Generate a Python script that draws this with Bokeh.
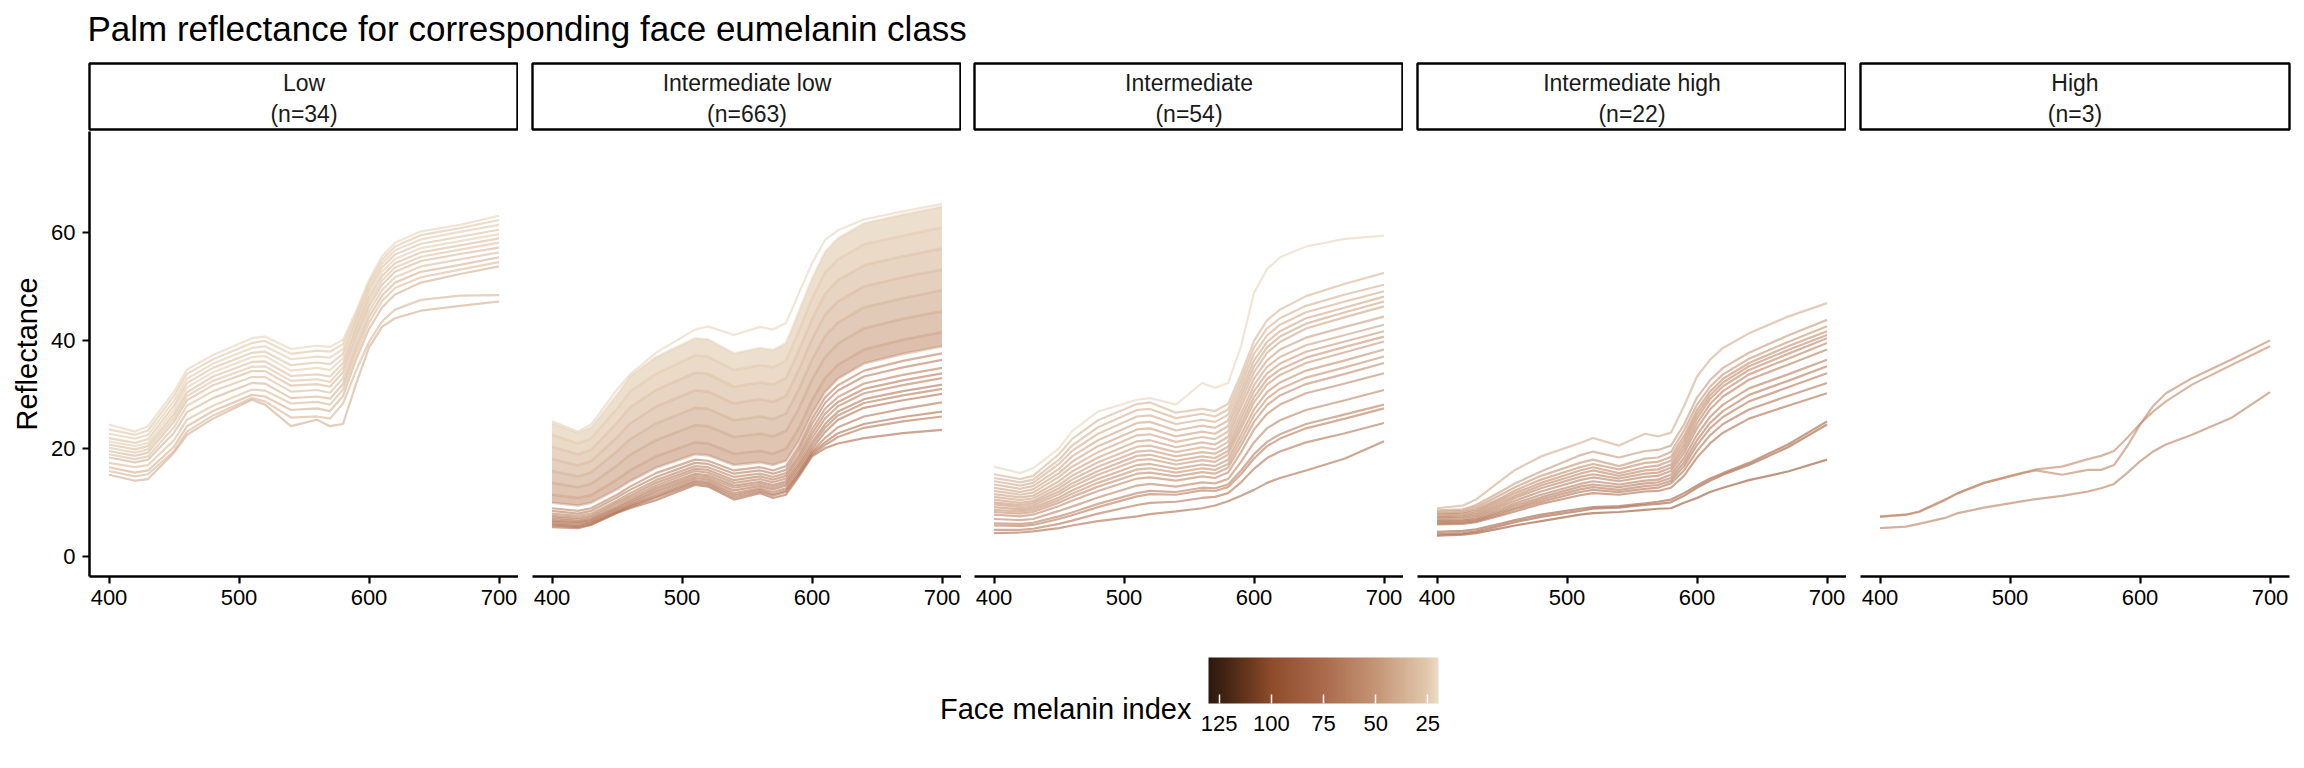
from bokeh.plotting import figure
from bokeh.layouts import column, row
from bokeh.models import (Range1d, FixedTicker, ColumnDataSource, LinearColorMapper,
                          ColorBar, Label, CustomJSTickFormatter)
from bokeh.embed import file_html
from bokeh.resources import INLINE
from bokeh.core.properties import value

FONT = "Liberation Sans"

# ---------------- data ----------------
wavelength = [400, 420, 430, 450, 460, 480, 510, 520, 540, 560, 570, 580, 590, 600, 610, 620, 640, 670, 700]

class_names = ["Low", "Intermediate low", "Intermediate", "Intermediate high", "High"]
class_counts = [34, 663, 54, 22, 3]

x_ticks = [400, 500, 600, 700]
y_ticks = [0, 20, 40, 60]
legend_ticks = [125, 100, 75, 50, 25]

low_reflectance = [
    [24.5, 23.2, 24.2, 30.6, 34.7, 37.4, 40.5, 40.8, 38.5, 39.1, 38.9, 40.2, 45.5, 51.3, 55.7, 58.2, 60.3, 61.5, 63.2],
    [23.6, 22.6, 23.4, 29.8, 33.9, 36.6, 39.6, 40.0, 37.6, 38.2, 38.0, 39.4, 44.8, 50.7, 55.0, 57.5, 59.6, 60.9, 62.4],
    [22.8, 21.9, 22.6, 28.9, 33.0, 35.8, 38.7, 39.0, 36.6, 37.1, 36.9, 38.5, 44.2, 50.1, 54.3, 56.8, 58.8, 60.2, 61.5],
    [22.0, 21.1, 21.8, 28.0, 32.2, 35.0, 37.8, 38.0, 35.5, 36.0, 35.7, 37.6, 43.5, 49.4, 53.6, 56.0, 58.0, 59.3, 60.6],
    [21.4, 20.5, 21.1, 27.2, 31.4, 34.2, 37.0, 37.2, 34.5, 35.0, 34.6, 36.8, 42.8, 48.7, 52.8, 55.2, 57.2, 58.5, 59.8],
    [20.8, 19.9, 20.5, 26.4, 30.5, 33.4, 36.1, 36.2, 33.5, 33.8, 33.4, 35.9, 42.2, 48.0, 52.0, 54.4, 56.4, 57.7, 59.0],
    [20.2, 19.3, 19.9, 25.7, 29.8, 32.6, 35.2, 35.3, 32.6, 32.9, 32.4, 35.1, 41.4, 47.2, 51.2, 53.6, 55.6, 56.9, 58.2],
    [19.6, 18.7, 19.3, 25.0, 29.0, 31.8, 34.4, 34.4, 31.7, 32.0, 31.5, 34.2, 40.6, 46.4, 50.4, 52.8, 54.8, 56.1, 57.3],
    [19.0, 18.1, 18.6, 24.0, 28.0, 30.7, 33.3, 33.3, 30.6, 30.9, 30.4, 33.1, 39.6, 45.4, 49.4, 51.8, 53.8, 55.1, 56.4],
    [18.4, 17.5, 18.0, 23.0, 26.8, 29.4, 32.2, 32.1, 29.4, 29.7, 29.3, 32.0, 38.6, 44.4, 48.4, 50.8, 52.8, 54.1, 55.5],
    [17.4, 16.6, 17.0, 21.6, 25.4, 28.0, 31.0, 30.8, 28.4, 28.7, 28.2, 31.0, 37.6, 43.4, 47.4, 49.8, 51.8, 53.2, 54.6],
    [16.6, 15.6, 16.0, 20.4, 24.2, 27.0, 30.0, 29.7, 27.2, 27.5, 27.0, 29.8, 36.5, 42.2, 46.2, 48.6, 50.8, 52.4, 53.8],
    [15.9, 14.9, 15.3, 19.6, 23.2, 26.2, 29.4, 28.8, 25.8, 26.0, 25.6, 28.4, 34.5, 39.8, 43.6, 45.8, 47.6, 48.4, 48.5],
    [15.2, 14.1, 14.4, 19.3, 22.6, 25.6, 29.1, 28.2, 24.2, 25.4, 24.2, 24.6, 32.0, 38.8, 42.6, 44.2, 45.6, 46.5, 47.3],
]
low_melanin = [22, 25, 24, 27, 23, 29, 26, 31, 28, 33, 30, 35, 32, 36]

intlow_top = [
    [25.1, 23.2, 24.5, 31.0, 33.8, 37.8, 42.1, 42.7, 41.1, 42.6, 42.1, 43.3, 48.9, 54.4, 58.7, 60.5, 62.5, 64.0, 65.4],
]
intlow_top_melanin = [21]

intlow_band = [
    [24.8, 23.0, 24.0, 30.0, 33.5, 37.0, 40.5, 40.3, 37.7, 38.7, 38.3, 39.6, 45.5, 51.5, 56.5, 59.0, 61.8, 63.4, 64.9],
    [22.6, 21.0, 21.9, 27.4, 30.6, 33.9, 37.3, 37.1, 34.6, 35.5, 35.1, 36.3, 41.9, 47.8, 52.6, 55.1, 57.9, 59.5, 61.0],
    [20.4, 19.0, 19.8, 24.8, 27.7, 30.9, 34.1, 33.9, 31.5, 32.3, 31.9, 33.1, 38.3, 44.0, 48.7, 51.2, 54.0, 55.7, 57.1],
    [18.1, 16.9, 17.7, 22.1, 24.7, 27.8, 30.8, 30.6, 28.4, 29.2, 28.7, 29.8, 34.7, 40.3, 44.8, 47.3, 50.1, 51.8, 53.2],
    [15.9, 14.9, 15.6, 19.5, 21.8, 24.7, 27.6, 27.4, 25.3, 26.0, 25.5, 26.5, 31.1, 36.5, 40.9, 43.4, 46.2, 47.9, 49.4],
    [13.7, 12.9, 13.5, 16.9, 18.9, 21.6, 24.4, 24.2, 22.2, 22.8, 22.3, 23.3, 27.5, 32.8, 37.0, 39.5, 42.3, 44.1, 45.5],
    [11.5, 10.9, 11.4, 14.3, 16.0, 18.6, 21.2, 21.0, 19.1, 19.6, 19.1, 20.0, 23.9, 29.0, 33.1, 35.6, 38.4, 40.2, 41.6],
    [10.0, 9.5, 10.0, 12.5, 14.0, 16.5, 19.0, 18.8, 17.0, 17.5, 17.0, 17.8, 21.5, 26.5, 30.5, 33.0, 35.8, 37.6, 39.0],
]
intlow_band_melanin = [23, 27, 31, 35, 39, 43, 47, 52]

intlow_lower = [
    [9.0, 8.5, 9.0, 11.5, 13.0, 15.5, 18.0, 17.8, 16.0, 16.6, 16.0, 16.8, 20.5, 25.5, 29.5, 31.8, 34.5, 36.3, 37.7],
    [8.5, 8.0, 8.5, 11.0, 12.4, 14.8, 17.4, 17.2, 15.4, 16.0, 15.4, 16.1, 19.8, 24.6, 28.5, 30.8, 33.4, 35.1, 36.5],
    [8.0, 7.6, 8.0, 10.4, 11.8, 14.2, 16.8, 16.6, 14.8, 15.4, 14.8, 15.5, 19.0, 23.6, 27.4, 29.6, 32.1, 33.7, 35.0],
    [7.6, 7.2, 7.6, 10.0, 11.3, 13.7, 16.3, 16.1, 14.2, 14.9, 14.3, 15.0, 18.4, 22.8, 26.5, 28.7, 31.1, 32.7, 34.0],
    [7.3, 6.9, 7.3, 9.6, 10.9, 13.2, 15.9, 15.6, 13.7, 14.4, 13.8, 14.5, 17.8, 22.0, 25.6, 27.9, 30.3, 31.8, 33.1],
    [7.0, 6.6, 7.0, 9.2, 10.5, 12.8, 15.4, 15.1, 13.2, 13.9, 13.3, 14.0, 17.2, 21.2, 24.6, 26.9, 29.2, 30.7, 31.9],
    [6.7, 6.4, 6.8, 9.0, 10.2, 12.4, 15.0, 14.7, 12.8, 13.5, 12.9, 13.6, 16.8, 20.6, 23.9, 26.2, 28.5, 29.9, 31.1],
    [6.5, 6.2, 6.6, 8.7, 9.9, 12.0, 14.6, 14.3, 12.3, 13.1, 12.5, 13.2, 16.3, 20.0, 23.1, 25.4, 27.6, 29.0, 30.2],
    [6.2, 5.9, 6.4, 8.5, 9.6, 11.6, 14.2, 13.9, 11.8, 12.7, 12.0, 12.7, 15.8, 19.5, 22.0, 24.0, 26.0, 27.4, 28.6],
    [6.0, 5.7, 6.2, 8.3, 9.4, 11.2, 13.9, 13.6, 11.4, 12.4, 11.6, 12.3, 15.5, 19.2, 21.2, 22.9, 24.6, 25.9, 26.9],
    [5.8, 5.5, 6.0, 8.2, 9.2, 11.0, 13.6, 13.3, 11.0, 12.1, 11.3, 12.0, 15.2, 18.9, 20.7, 22.2, 23.9, 25.1, 26.0],
    [5.5, 5.3, 5.9, 8.1, 9.0, 10.5, 13.3, 13.0, 10.6, 11.8, 10.9, 11.5, 14.9, 18.6, 20.1, 21.0, 22.0, 22.9, 23.5],
]
intlow_lower_melanin = [55, 57, 54, 59, 56, 61, 58, 63, 60, 65, 62, 67]

inter_reflectance = [
    [16.7, 15.5, 16.4, 20.1, 23.3, 26.9, 29.1, 29.4, 28.2, 32.2, 31.3, 32.2, 39.0, 48.9, 53.3, 55.5, 57.5, 58.9, 59.5],
    [15.3, 14.4, 15.0, 19.0, 21.8, 25.3, 28.3, 28.6, 26.7, 27.4, 27.0, 28.3, 33.8, 40.0, 43.8, 45.8, 48.3, 50.6, 52.6],
    [14.6, 13.8, 14.3, 18.0, 20.6, 24.0, 27.2, 27.4, 25.7, 26.5, 26.0, 27.3, 32.8, 38.8, 42.3, 44.2, 46.5, 48.6, 50.4],
    [14.0, 13.2, 13.7, 17.2, 19.6, 22.8, 26.0, 26.2, 24.6, 25.4, 25.0, 26.3, 31.8, 37.6, 41.0, 43.0, 45.3, 47.3, 49.2],
    [13.4, 12.6, 13.1, 16.3, 18.6, 21.6, 24.8, 25.0, 23.4, 24.3, 23.9, 25.2, 30.8, 36.4, 39.8, 41.8, 44.2, 46.2, 48.2],
    [12.8, 12.0, 12.5, 15.5, 17.6, 20.5, 23.6, 23.8, 22.3, 23.2, 22.8, 24.2, 29.8, 35.3, 38.8, 40.8, 43.2, 45.3, 47.3],
    [12.2, 11.5, 11.9, 14.8, 16.7, 19.4, 22.5, 22.7, 21.3, 22.2, 21.8, 23.2, 28.8, 34.2, 37.8, 39.8, 42.3, 44.4, 46.4],
    [11.6, 11.0, 11.3, 14.0, 15.8, 18.4, 21.4, 21.6, 20.3, 21.2, 20.8, 22.2, 27.8, 33.0, 36.4, 38.4, 40.6, 42.6, 44.5],
    [11.1, 10.5, 10.8, 13.3, 15.0, 17.5, 20.4, 20.6, 19.4, 20.3, 19.9, 21.3, 26.6, 31.8, 35.2, 37.0, 39.2, 41.1, 43.0],
    [10.6, 10.0, 10.3, 12.7, 14.3, 16.7, 19.5, 19.7, 18.6, 19.4, 19.1, 20.4, 25.6, 30.7, 34.0, 35.8, 38.0, 39.9, 41.8],
    [10.1, 9.6, 9.9, 12.1, 13.6, 15.9, 18.7, 18.9, 17.8, 18.6, 18.3, 19.6, 24.6, 29.6, 32.9, 34.7, 36.9, 38.9, 40.8],
    [9.7, 9.2, 9.5, 11.6, 13.0, 15.2, 17.9, 18.1, 17.1, 17.9, 17.6, 18.9, 23.7, 28.6, 31.9, 33.7, 35.9, 37.9, 39.9],
    [9.2, 8.8, 9.1, 11.0, 12.3, 14.4, 17.0, 17.2, 16.3, 17.1, 16.8, 18.0, 22.6, 27.3, 30.5, 32.3, 34.5, 36.4, 38.4],
    [8.7, 8.4, 8.7, 10.5, 11.7, 13.7, 16.2, 16.4, 15.6, 16.4, 16.1, 17.2, 21.6, 26.2, 29.3, 31.1, 33.2, 35.1, 37.1],
    [8.3, 8.0, 8.3, 10.0, 11.1, 13.0, 15.4, 15.6, 14.9, 15.7, 15.4, 16.5, 20.6, 25.0, 28.1, 29.9, 32.0, 33.9, 35.9],
    [7.8, 7.5, 7.8, 9.4, 10.4, 12.2, 14.5, 14.7, 14.1, 14.9, 14.6, 15.6, 19.4, 23.6, 26.5, 28.2, 30.3, 32.1, 34.0],
    [7.0, 6.8, 7.0, 8.5, 9.3, 11.0, 13.2, 13.5, 13.0, 13.8, 13.6, 14.4, 17.6, 21.2, 23.8, 25.3, 27.2, 29.0, 30.9],
    [6.2, 6.1, 6.3, 7.5, 8.2, 9.8, 11.8, 12.2, 12.0, 12.8, 12.7, 13.4, 16.0, 19.0, 21.3, 22.7, 24.6, 26.4, 28.2],
    [5.8, 5.7, 5.9, 7.0, 7.7, 9.2, 11.2, 11.6, 11.5, 12.3, 12.2, 12.9, 15.3, 18.2, 20.5, 21.9, 23.8, 25.6, 27.5],
    [5.0, 5.0, 5.2, 6.1, 6.7, 8.0, 9.6, 10.0, 10.2, 10.9, 11.1, 11.8, 13.8, 16.3, 18.3, 19.5, 21.2, 22.9, 24.8],
    [4.4, 4.5, 4.7, 5.3, 5.8, 6.6, 7.5, 7.9, 8.4, 9.0, 9.5, 10.3, 11.3, 12.4, 13.7, 14.6, 16.0, 18.2, 21.4],
]
inter_melanin = [21, 32, 34, 36, 38, 40, 39, 42, 41, 44, 46, 45, 48, 47, 50, 52, 54, 57, 59, 62, 66]

interhigh_reflectance = [
    [9.0, 9.5, 10.6, 14.3, 16.1, 18.6, 21.1, 22.0, 20.6, 22.8, 22.3, 23.0, 27.9, 33.4, 36.5, 38.7, 41.4, 44.5, 47.0],
    [8.6, 8.8, 9.6, 12.2, 13.6, 15.8, 18.8, 19.5, 18.4, 19.6, 19.8, 20.6, 24.5, 29.5, 32.7, 35.0, 37.8, 41.0, 43.9],
    [8.3, 8.5, 9.2, 11.6, 12.9, 15.0, 17.4, 18.0, 16.8, 18.2, 18.4, 19.4, 23.4, 28.2, 31.5, 33.8, 36.7, 39.8, 42.7],
    [8.0, 8.2, 8.8, 11.0, 12.3, 14.3, 16.6, 17.2, 16.2, 17.4, 17.6, 18.5, 22.4, 27.2, 30.6, 33.0, 35.9, 39.0, 41.8],
    [7.8, 8.0, 8.5, 10.6, 11.8, 13.7, 16.0, 16.6, 15.5, 16.6, 16.9, 17.8, 21.6, 26.4, 29.9, 32.3, 35.3, 38.3, 41.1],
    [7.5, 7.7, 8.2, 10.2, 11.3, 13.2, 15.4, 16.0, 15.0, 16.0, 16.2, 17.1, 20.8, 25.6, 29.2, 31.6, 34.6, 37.6, 40.5],
    [7.3, 7.5, 7.9, 9.8, 10.9, 12.7, 14.8, 15.3, 14.5, 15.4, 15.6, 16.5, 20.0, 24.7, 28.3, 30.7, 33.8, 36.7, 39.6],
    [7.1, 7.2, 7.6, 9.4, 10.4, 12.1, 14.2, 14.7, 14.0, 14.8, 15.0, 15.9, 19.2, 23.8, 27.3, 29.7, 32.8, 35.6, 38.4],
    [6.8, 6.9, 7.3, 9.0, 9.9, 11.5, 13.5, 14.0, 13.4, 14.1, 14.3, 15.2, 18.3, 22.6, 25.9, 28.2, 31.2, 33.8, 36.5],
    [6.6, 6.7, 7.0, 8.6, 9.5, 11.0, 13.0, 13.4, 12.9, 13.6, 13.8, 14.6, 17.5, 21.6, 24.8, 27.0, 30.0, 32.6, 35.3],
    [6.4, 6.5, 6.8, 8.3, 9.1, 10.6, 12.5, 12.9, 12.4, 13.1, 13.3, 14.1, 16.8, 20.7, 23.8, 25.9, 28.8, 31.4, 34.0],
    [6.2, 6.3, 6.6, 8.0, 8.8, 10.2, 12.0, 12.4, 12.0, 12.6, 12.8, 13.6, 16.0, 19.6, 22.5, 24.6, 27.3, 29.8, 32.2],
    [6.0, 6.1, 6.4, 7.7, 8.4, 9.8, 11.4, 11.8, 11.5, 12.1, 12.2, 12.8, 15.0, 18.4, 21.0, 23.0, 25.6, 28.0, 30.3],
    [4.6, 4.8, 5.1, 6.2, 6.8, 7.8, 8.9, 9.2, 9.4, 9.9, 10.2, 10.6, 11.8, 13.2, 14.5, 15.5, 17.4, 20.8, 25.1],
    [4.2, 4.4, 4.7, 5.8, 6.4, 7.4, 8.5, 8.9, 9.1, 9.6, 9.8, 10.1, 11.3, 12.8, 14.1, 15.2, 17.0, 20.3, 24.5],
    [3.9, 4.1, 4.4, 5.3, 5.8, 6.6, 7.8, 8.1, 8.3, 8.7, 8.9, 9.0, 10.0, 10.9, 12.0, 12.8, 14.2, 15.8, 18.0],
]
interhigh_melanin = [36, 44, 47, 50, 52, 53, 55, 57, 58, 60, 61, 63, 66, 75, 77, 84]

high_reflectance = [
    [7.5, 7.8, 8.4, 10.6, 11.8, 13.7, 15.5, 16.2, 16.7, 18.1, 18.7, 19.6, 22.0, 24.6, 26.9, 28.8, 31.9, 35.5, 39.0],
    [7.4, 7.8, 8.3, 10.5, 11.8, 13.7, 15.6, 16.0, 15.2, 16.1, 16.1, 17.0, 20.4, 24.5, 27.9, 30.3, 33.1, 36.5, 40.1],
    [5.3, 5.6, 6.1, 7.2, 8.1, 9.1, 10.3, 10.7, 11.3, 12.1, 12.7, 13.5, 15.5, 17.7, 19.5, 20.8, 22.6, 25.7, 30.5],
]
high_melanin = [52, 54, 57]

# ---------------- colour scale ----------------
MI_LOW, MI_HIGH = 19.9, 130.1
anchors = [(19.9, (235, 220, 197)), (25, (225, 201, 173)), (50, (197, 148, 118)),
           (75, (170, 106, 76)), (100, (142, 76, 43)), (112, (100, 54, 29)),
           (122, (66, 37, 20)), (130.1, (44, 25, 14))]


def shade(m):
    m = max(MI_LOW, min(MI_HIGH, m))
    for (a, ca), (b, cb) in zip(anchors[:-1], anchors[1:]):
        if a <= m <= b:
            t = (m - a) / (b - a)
            c = [round(ca[k] + t * (cb[k] - ca[k])) for k in range(3)]
            return "#%02x%02x%02x" % tuple(c)
    return "#%02x%02x%02x" % anchors[-1][1]


palette = [shade(MI_HIGH - i * (MI_HIGH - MI_LOW) / 255) for i in range(256)]
mapper = LinearColorMapper(palette=palette, low=-MI_HIGH, high=-MI_LOW)

LINE_ALPHA = 0.66
LINE_W = 2.2
FW = 429
LEFT = [89, 14, 13, 14, 14]
RIGHT = [0, 0, 0, 0, 15]
PAGE_W = 2304


def add_lines(p, rows, melanin, width=LINE_W, alpha=LINE_ALPHA):
    src = ColumnDataSource(dict(xs=[wavelength] * len(rows), ys=rows,
                                neg=[-m for m in melanin]))
    p.multi_line(xs="xs", ys="ys", source=src, line_width=width, line_alpha=alpha,
                 line_color={"field": "neg", "transform": mapper})


def panel_fig(i):
    p = figure(frame_width=FW, frame_height=445,
               x_range=Range1d(385, 715), y_range=Range1d(-3.65, 78.8),
               output_backend="svg", toolbar_location=None,
               x_axis_location="below", y_axis_location=("left" if i == 0 else None),
               min_border_left=LEFT[i], min_border_right=RIGHT[i],
               min_border_top=0, min_border_bottom=44)
    p.grid.visible = False
    p.outline_line_color = None
    p.background_fill_color = "white"
    for ax in p.axis:
        ax.axis_line_width = 2.5
        ax.axis_line_color = "black"
        ax.major_tick_line_width = 2.2
        ax.major_tick_line_color = "black"
        ax.major_tick_out = 7
        ax.major_tick_in = 0
        ax.minor_tick_line_color = None
        ax.major_label_text_font = FONT
        ax.major_label_text_font_size = "22px"
        ax.major_label_text_color = "black"
        ax.major_label_standoff = 6
    p.xaxis.ticker = FixedTicker(ticks=x_ticks)
    if i == 0:
        p.yaxis.ticker = FixedTicker(ticks=y_ticks)
        p.yaxis.major_label_standoff = 7
        p.yaxis.axis_label = "Reflectance"
        p.yaxis.axis_label_text_font = FONT
        p.yaxis.axis_label_text_font_size = "29px"
        p.yaxis.axis_label_text_font_style = "normal"
        p.yaxis.axis_label_text_color = "black"
        p.yaxis.axis_label_standoff = 5
    return p


def strip_fig(i):
    s = figure(frame_width=FW, frame_height=66, x_range=Range1d(0, 1), y_range=Range1d(0, 1),
               output_backend="svg", toolbar_location=None,
               x_axis_location=None, y_axis_location=None,
               min_border_left=LEFT[i], min_border_right=RIGHT[i],
               min_border_top=1, min_border_bottom=2)
    s.grid.visible = False
    s.outline_line_color = "black"
    s.outline_line_width = 2.4
    s.background_fill_color = "white"
    src = ColumnDataSource(dict(x=[0.5], y=[0.47],
                                t=["%s\n(n=%d)" % (class_names[i], class_counts[i])]))
    s.text(x="x", y="y", text="t", source=src, text_align="center",
           text_baseline="middle", text_font=value(FONT), text_line_height=1.17,
           text_font_size="23px", text_color="#1a1a1a")
    return s


panels = [panel_fig(i) for i in range(5)]
strips = [strip_fig(i) for i in range(5)]

# Low
add_lines(panels[0], low_reflectance, low_melanin)

# Intermediate low: dense band of many overlapping spectra
pb = panels[1]
for k in range(len(intlow_band) - 1):
    mid = (intlow_band_melanin[k] + intlow_band_melanin[k + 1]) / 2
    pb.varea(x=wavelength, y1=intlow_band[k + 1], y2=intlow_band[k],
             fill_color=shade(mid), fill_alpha=0.6)
add_lines(pb, intlow_band, intlow_band_melanin, width=2.6, alpha=0.45)
add_lines(pb, intlow_lower, intlow_lower_melanin)
add_lines(pb, intlow_top, intlow_top_melanin)

# Intermediate
add_lines(panels[2], inter_reflectance, inter_melanin)
# Intermediate high
add_lines(panels[3], interhigh_reflectance, interhigh_melanin)
# High
add_lines(panels[4], high_reflectance, high_melanin)

# ---------------- header (title) ----------------
hdr = figure(width=PAGE_W, height=62, x_range=Range1d(0, 1), y_range=Range1d(0, 1),
             output_backend="svg", toolbar_location=None,
             x_axis_location=None, y_axis_location=None,
             min_border_left=89, min_border_right=15, min_border_top=47, min_border_bottom=0)
hdr.grid.visible = False
hdr.outline_line_color = None
hdr.title.text = "Palm reflectance for corresponding face eumelanin class"
hdr.title.text_font = FONT
hdr.title.text_font_size = "35px"
hdr.title.text_font_style = "normal"
hdr.title.text_color = "black"
hdr.title.align = "left"
hdr.title.standoff = 0
hdr.title.offset = -2

# ---------------- legend (colour bar) ----------------
leg = figure(width=PAGE_W, height=148, x_range=Range1d(0, 1), y_range=Range1d(0, 1),
             output_backend="svg", toolbar_location=None,
             x_axis_location=None, y_axis_location=None,
             min_border_left=89, min_border_right=15, min_border_top=0, min_border_bottom=0)
leg.grid.visible = False
leg.outline_line_color = None
cb = ColorBar(color_mapper=mapper, orientation="horizontal", location=(1119, 35),
              width=230, height=46, padding=0,
              ticker=FixedTicker(ticks=[-t for t in legend_ticks]),
              formatter=CustomJSTickFormatter(code="return String(Math.abs(tick))"),
              major_label_text_font=FONT, major_label_text_font_size="22px",
              major_label_text_color="black",
              major_tick_line_color="white", major_tick_line_width=1.5,
              major_tick_in=9, major_tick_out=0, minor_tick_line_color=None,
              label_standoff=12, bar_line_color=None, border_line_color=None,
              background_fill_color=None)
leg.add_layout(cb, "center")
leg.add_layout(Label(x=1102, y=60, x_units="screen", y_units="screen",
                     text="Face melanin index", text_align="right",
                     text_baseline="alphabetic", text_font=FONT,
                     text_font_size="29px", text_color="black"))

page = column(hdr, row(*strips), row(*panels), leg)
open("out.html", "w").write(file_html(page, INLINE))
